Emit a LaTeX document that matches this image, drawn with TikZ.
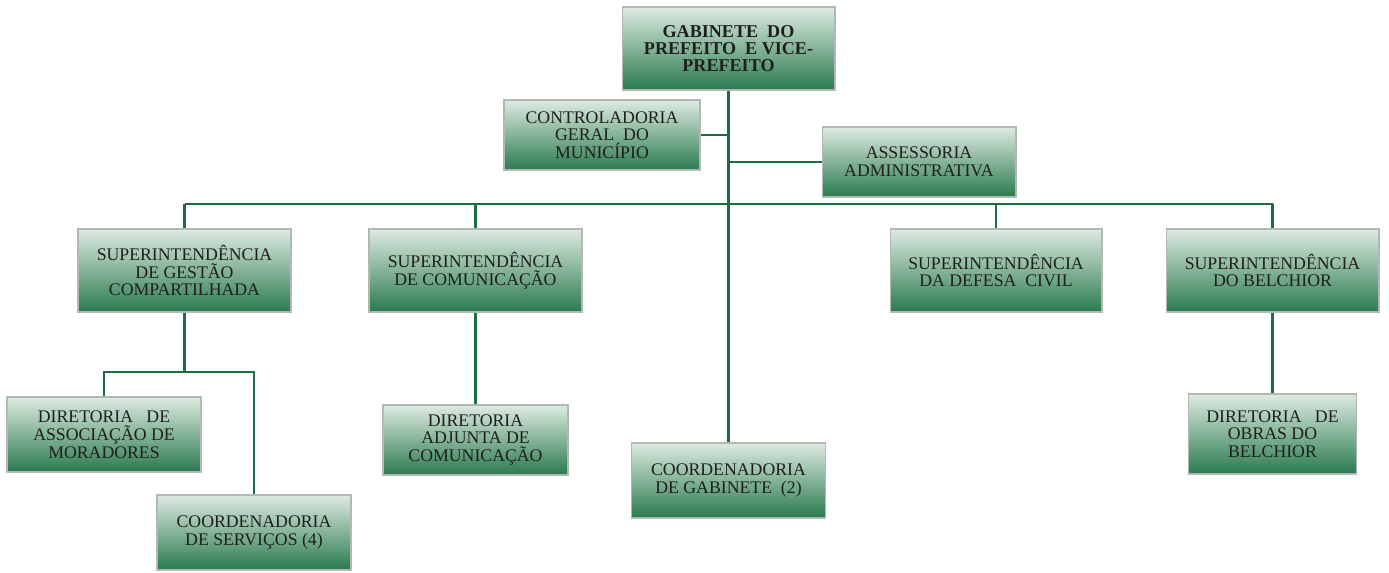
\documentclass[tikz,border=0pt]{standalone}
\usepackage{fontspec}
\setmainfont{Liberation Serif}
\usetikzlibrary{positioning}
\definecolor{boxtop}{HTML}{DDEBE1}
\definecolor{boxmid}{HTML}{86BE98}
\definecolor{boxbot}{HTML}{2A7A4E}
\definecolor{linkgreen}{HTML}{1F6B44}
\definecolor{boxedge}{HTML}{B4B8B5}
\begin{document}
\begin{tikzpicture}[x=0.02cm,y=-0.02cm,
						unit/.style={rectangle,draw=boxedge,line width=0.6pt,top color=boxtop,middle color=boxmid,bottom color=boxbot,
							align=center,inner sep=1pt,text=black!88,font=\fontsize{10.1}{10.1}\selectfont},
						head/.style={unit,font=\bfseries\fontsize{10.3}{9.9}\selectfont},
						link/.style={draw=linkgreen,line width=1.6pt}]

		\useasboundingbox (0,0) rectangle (1389,572);

		\node[head,minimum width=4.26cm,minimum height=1.66cm]		(gab)		at (728.5,48.5)		{GABINETE~ DO\\PREFEITO~ E VICE-\\PREFEITO};
		\node[unit,minimum width=3.92cm,minimum height=1.4cm]		(contr)		at (602,135)		{CONTROLADORIA\\GERAL~ DO\\MUNICÍPIO};
		\node[unit,minimum width=3.88cm,minimum height=1.4cm]		(assess)	at (919,162)		{ASSESSORIA\\ADMINISTRATIVA};

		\node[unit,minimum width=4.26cm,minimum height=1.66cm]		(supges)	at (184.5,270.5)	{SUPERINTENDÊNCIA\\DE GESTÃO\\COMPARTILHADA};
		\node[unit,minimum width=4.26cm,minimum height=1.66cm]		(supcom)	at (475.5,270.5)	{SUPERINTENDÊNCIA\\DE COMUNICAÇÃO};
		\node[unit,minimum width=4.24cm,minimum height=1.66cm]		(supdef)	at (996,270.5)		{SUPERINTENDÊNCIA\\DA DEFESA~ CIVIL};
		\node[unit,minimum width=4.26cm,minimum height=1.66cm]		(supbel)	at (1272.5,270.5)	{SUPERINTENDÊNCIA\\DO BELCHIOR};

		\node[unit,minimum width=3.88cm,minimum height=1.5cm]		(dirass)	at (104,434.5)		{DIRETORIA~~ DE\\ASSOCIAÇÃO DE\\MORADORES};
		\node[unit,minimum width=3.88cm,minimum height=1.5cm]		(coordserv)	at (254,532.5)		{COORDENADORIA\\DE SERVIÇOS (4)};
		\node[unit,minimum width=3.7cm,minimum height=1.4cm]		(diradj)	at (475.5,440)		{DIRETORIA\\ADJUNTA DE\\COMUNICAÇÃO};
		\node[unit,minimum width=3.88cm,minimum height=1.5cm]		(coordgab)	at (728.5,480.5)	{COORDENADORIA\\DE GABINETE~ (2)};
		\node[unit,minimum width=3.36cm,minimum height=1.6cm]		(dirobr)	at (1272.5,434)		{DIRETORIA~~ DE\\OBRAS DO\\BELCHIOR};

		\coordinate (busl) at (184.5,204);
		\coordinate (busr) at (1272.5,204);
		\coordinate (gsplit) at (184.5,372);

		\draw[link] (gab) -- (coordgab);
		\draw[link] (contr.east) -- (contr.east -| gab);
		\draw[link] (assess.west) -- (assess.west -| gab);
		\draw[link] (busl) -- (busr);
		\draw[link] (supges) -- (busl);
		\draw[link] (supcom) -- (supcom |- busl);
		\draw[link] (supdef) -- (supdef |- busl);
		\draw[link] (supbel) -- (busr);
		\draw[link] (supges) -- (gsplit);
		\draw[link] (dirass) |- (gsplit) -| (coordserv);
		\draw[link] (supcom) -- (diradj);
		\draw[link] (supbel) -- (dirobr);
	\end{tikzpicture}
\end{document}
